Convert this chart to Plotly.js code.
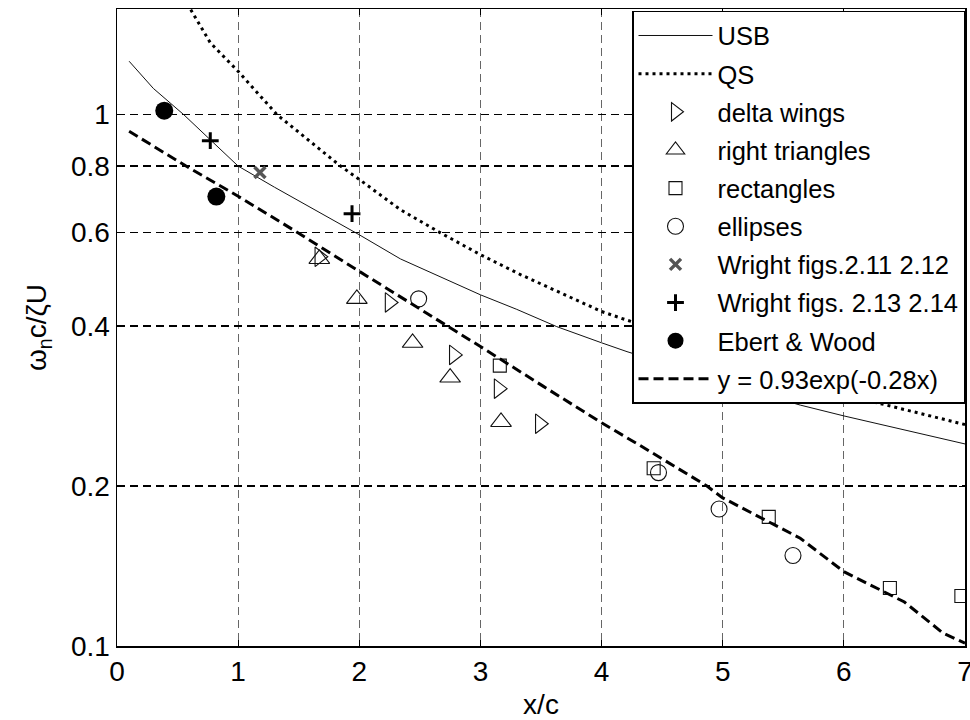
<!DOCTYPE html>
<html>
<head>
<meta charset="utf-8">
<script src="https://cdn.plot.ly/plotly-3.0.1.min.js"></script>
<style>html,body{margin:0;padding:0;background:#fff;}#chart{width:970px;height:720px;}</style>
</head>
<body>
<div id="chart"></div>
<script>
// USB curve
const usbX = [0.1, 0.3, 0.55, 0.77, 1.0, 1.3, 1.6, 2.0, 2.34, 2.59, 3.0, 3.3, 3.63, 4.0, 4.21, 4.6, 5.0, 5.3, 5.64, 6.0, 6.5, 7.0];
const usbY = [1.26, 1.12, 1.0, 0.897, 0.80, 0.73, 0.668, 0.594, 0.535, 0.504, 0.458, 0.43, 0.399, 0.372, 0.358, 0.336, 0.316, 0.299, 0.284, 0.271, 0.255, 0.24];
// QS curve
const qsX = [0.55, 0.607, 0.77, 1.0, 1.32, 1.845, 2.0, 2.34, 2.67, 3.0, 3.33, 4.0, 4.2, 4.6, 5.0, 5.5, 6.0, 6.19, 6.6, 7.0];
const qsY = [1.66, 1.58, 1.365, 1.206, 1.0, 0.80, 0.755, 0.662, 0.599, 0.545, 0.50, 0.426, 0.411, 0.385, 0.36, 0.33, 0.30, 0.29, 0.275, 0.261];
// delta wings
const deltaX = [1.67, 2.25, 2.78, 3.15, 3.49];
const deltaY = [0.540, 0.443, 0.353, 0.305, 0.262];
// right triangles
const rtriX = [1.67, 1.98, 2.44, 2.75, 3.17];
const rtriY = [0.535, 0.450, 0.372, 0.320, 0.264];
// rectangles
const rectX = [3.16, 4.43, 5.38, 6.38, 6.97];
const rectY = [0.337, 0.216, 0.175, 0.1286, 0.1242];
// ellipses
const ellX = [2.49, 4.47, 4.97, 5.58];
const ellY = [0.450, 0.212, 0.181, 0.148];
// Wright figs 2.11 2.12
const w1X = [1.18];
const w1Y = [0.778];
// Wright figs 2.13 2.14
const w2X = [0.77, 1.94];
const w2Y = [0.893, 0.651];
// Ebert & Wood
const ebX = [0.39, 0.82];
const ebY = [1.017, 0.701];
// fit y = 0.93exp(-0.28x) as drawn
const fitX = [0.1, 0.57, 1.0, 1.49, 2.0, 2.56, 2.73, 3.0, 3.52, 4.0, 4.31, 4.47, 4.87, 5.0, 5.64, 6.0, 6.5, 6.82, 7.0];
const fitY = [0.930, 0.80, 0.702, 0.60, 0.507, 0.423, 0.40, 0.366, 0.308, 0.263, 0.239, 0.227, 0.20, 0.190, 0.1595, 0.138, 0.121, 0.1057, 0.1012];

const xTicks = [0, 1, 2, 3, 4, 5, 6, 7];
const yTicks = [0.1, 0.2, 0.4, 0.6, 0.8, 1];
const yTickText = ['0.1', '0.2', '0.4', '0.6', '0.8', '1'];

const mk = (sym, size) => ({symbol: sym, size: size, color: '#111', line: {color: '#111', width: 1.1}});

const traces = [
  {x: usbX, y: usbY, mode: 'lines', name: 'USB', line: {color: '#111', width: 1}},
  {x: qsX, y: qsY, mode: 'lines', name: 'QS', line: {color: '#000', width: 3, dash: '3px,4px'}},
  {x: deltaX, y: deltaY, mode: 'markers', name: 'delta wings', marker: mk('triangle-right-open', 17)},
  {x: rtriX, y: rtriY, mode: 'markers', name: 'right triangles', marker: mk('triangle-up-open', 18)},
  {x: rectX, y: rectY, mode: 'markers', name: 'rectangles', marker: mk('square-open', 13)},
  {x: ellX, y: ellY, mode: 'markers', name: 'ellipses', marker: mk('circle-open', 16)},
  {x: w1X, y: w1Y, mode: 'markers', name: 'Wright figs.2.11 2.12', marker: {symbol: 'x-thin', size: 11, color: '#555', line: {color: '#555', width: 3.5}}},
  {x: w2X, y: w2Y, mode: 'markers', name: 'Wright figs. 2.13 2.14', marker: {symbol: 'cross-thin', size: 12, color: '#000', line: {color: '#000', width: 3}}},
  {x: ebX, y: ebY, mode: 'markers', name: 'Ebert &amp; Wood', marker: {symbol: 'circle', size: 18, color: '#000'}},
  {x: fitX, y: fitY, mode: 'lines', name: 'y = 0.93exp(-0.28x)', line: {color: '#000', width: 3, dash: '10px,5px'}}
];
traces.forEach((t, i) => { t.legendgroup = 'g' + i; });

const font = {family: '"Liberation Sans", Arial, Helvetica, sans-serif', size: 25, color: '#000'};

const layout = {
  width: 970, height: 720,
  margin: {l: 117, r: 5, t: 9, b: 74},
  paper_bgcolor: '#fff', plot_bgcolor: '#fff',
  font: font,
  showlegend: true,
  xaxis: {
    range: [0, 7], tickvals: xTicks, ticktext: xTicks.map(String),
    showline: true, linecolor: '#000', linewidth: 1.5, mirror: 'ticks',
    ticks: 'inside', ticklen: 6, tickwidth: 1, tickcolor: '#000',
    showgrid: true, gridcolor: '#666', gridwidth: 1.2, griddash: '8px,5px',
    zeroline: false, ticklabelstandoff: 0, ticklabeloverflow: 'allow',
    tickfont: {size: 28},
    title: {text: 'x/c', font: {size: 28}, standoff: 10}
  },
  yaxis: {
    type: 'log', range: [-1, Math.log10(1.58)], tickvals: yTicks, ticktext: yTickText,
    showline: true, linecolor: '#000', linewidth: 1.5, mirror: 'ticks',
    ticks: 'inside', ticklen: 6, tickwidth: 1, tickcolor: '#000',
    showgrid: true, gridcolor: '#000', gridwidth: 1.4, griddash: '8px,5px',
    zeroline: false, ticklabelstandoff: 0, ticklabeloverflow: 'allow',
    tickfont: {size: 28},
    title: {text: 'ω<sub>n</sub>c/ζU', font: {size: 28}, standoff: 16}
  },
  legend: {
    x: 1, xanchor: 'right', y: 0.997, yanchor: 'top',
    bgcolor: '#fff', bordercolor: '#000', borderwidth: 1.5,
    font: {size: 25.5}, itemwidth: 74, tracegroupgap: 2
  }
};

Plotly.newPlot('chart', traces, layout, {displayModeBar: false, staticPlot: true});
</script>
</body>
</html>
